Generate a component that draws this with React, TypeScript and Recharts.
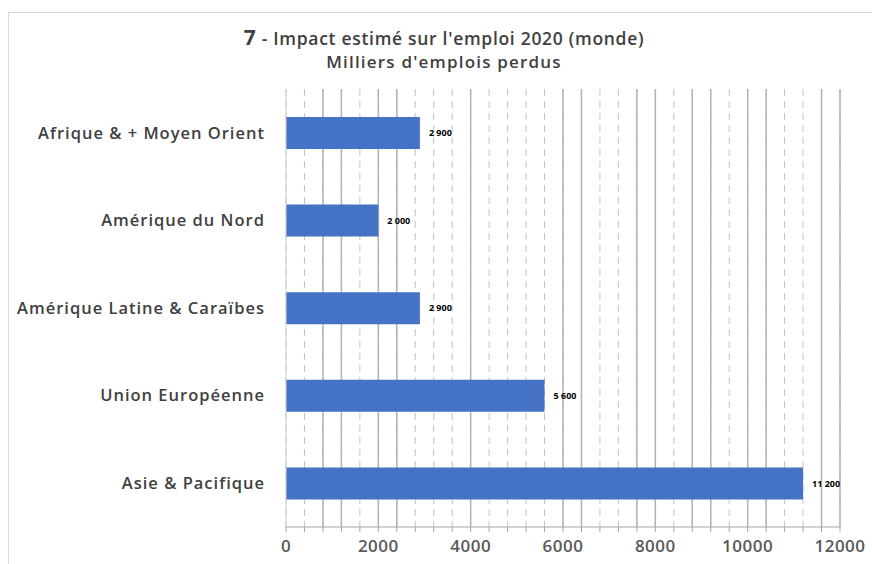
import { Bar, BarChart, CartesianGrid, LabelList, ReferenceLine, XAxis, YAxis } from "recharts"

const regions = [
  "Afrique & + Moyen Orient",
  "Amérique du Nord",
  "Amérique Latine & Caraïbes",
  "Union Européenne",
  "Asie & Pacifique",
]
const jobsLost = [2900, 2000, 2900, 5600, 11200]

const labeledTicks = [0, 2000, 4000, 6000, 8000, 10000, 12000]
const minorTicks = [
  0, 400, 800, 1200, 1600, 2000, 2400, 2800, 3200, 3600, 4000, 4400, 4800, 5200, 5600, 6000,
  6400, 6800, 7200, 7600, 8000, 8400, 8800, 9200, 9600, 10000, 10400, 10800, 11200, 11600, 12000,
]
// lines that show as solid in the source picture, the rest are dashed
const solidLines = [800, 1200, 2000, 2400, 4000, 6000, 6400, 7600, 8000, 8800, 9200, 10000, 10400, 11600, 12000]

const data = regions.map((name, i) => ({ name, value: jobsLost[i] }))

const fmt = (v: number) => String(v).replace(/\B(?=(\d{3})+(?!\d))/g, " ")
const font = "'Open Sans', 'DejaVu Sans', sans-serif"

export default function App() {
  return (
    <div style={{ position: "absolute", left: 0, top: 0, width: 872, height: 564, background: "#fff", fontFamily: font }}>
      <div style={{ position: "absolute", left: 8, top: 12, right: 0, bottom: 0, borderTop: "1px solid #d9d9d9", borderLeft: "1px solid #d9d9d9" }} />
      <div style={{ position: "absolute", left: 224, width: 440, top: 24, textAlign: "center", color: "#404040", fontWeight: 600, fontSize: 17.5, lineHeight: "26px", letterSpacing: 0.7 }}>
        <span style={{ fontSize: 21, fontWeight: 700 }}>7</span> - Impact estimé sur l'emploi 2020 (monde)
        <div style={{ fontSize: 17, lineHeight: "22px", letterSpacing: 1.2 }}>Milliers d'emplois perdus</div>
      </div>
      <BarChart
        width={872}
        height={564}
        data={data}
        layout="vertical"
        margin={{ top: 89, right: 32, bottom: 7, left: 0 }}
        barSize={32}
        style={{ position: "absolute", left: 0, top: 0 }}
      >
        <CartesianGrid horizontal={false} stroke="#c4c4c4" strokeDasharray="7 5" />
        {solidLines.map((v) => (
          <ReferenceLine key={v} x={v} stroke="#b3b3b3" strokeWidth={1.5} zIndex={-90} />
        ))}
        <XAxis
          type="number"
          domain={[0, 12000]}
          ticks={minorTicks}
          interval={0}
          tickFormatter={(v: number) => (labeledTicks.includes(v) ? String(v) : "")}
          stroke="#a6a6a6"
          tickSize={5}
          tickMargin={8}
          height={30}
          tick={{ fill: "#595959", fontSize: 17, fontWeight: 600, fontFamily: font, letterSpacing: 0.5 }}
        />
        <YAxis
          type="category"
          dataKey="name"
          width={286}
          stroke="#d0d0d0"
          tickLine={false}
          tickSize={0}
          tickMargin={21}
          tick={{ fill: "#404040", fontSize: 16.5, fontWeight: 600, fontFamily: font, letterSpacing: 1 }}
        />
        <Bar dataKey="value" fill="#4472C4" isAnimationActive={false}>
          <LabelList
            dataKey="value"
            position="right"
            offset={9}
            formatter={(v: any) => fmt(Number(v))}
            style={{ fill: "#000", fontSize: 9, fontWeight: 700, fontFamily: font }}
          />
        </Bar>
      </BarChart>
    </div>
  )
}
